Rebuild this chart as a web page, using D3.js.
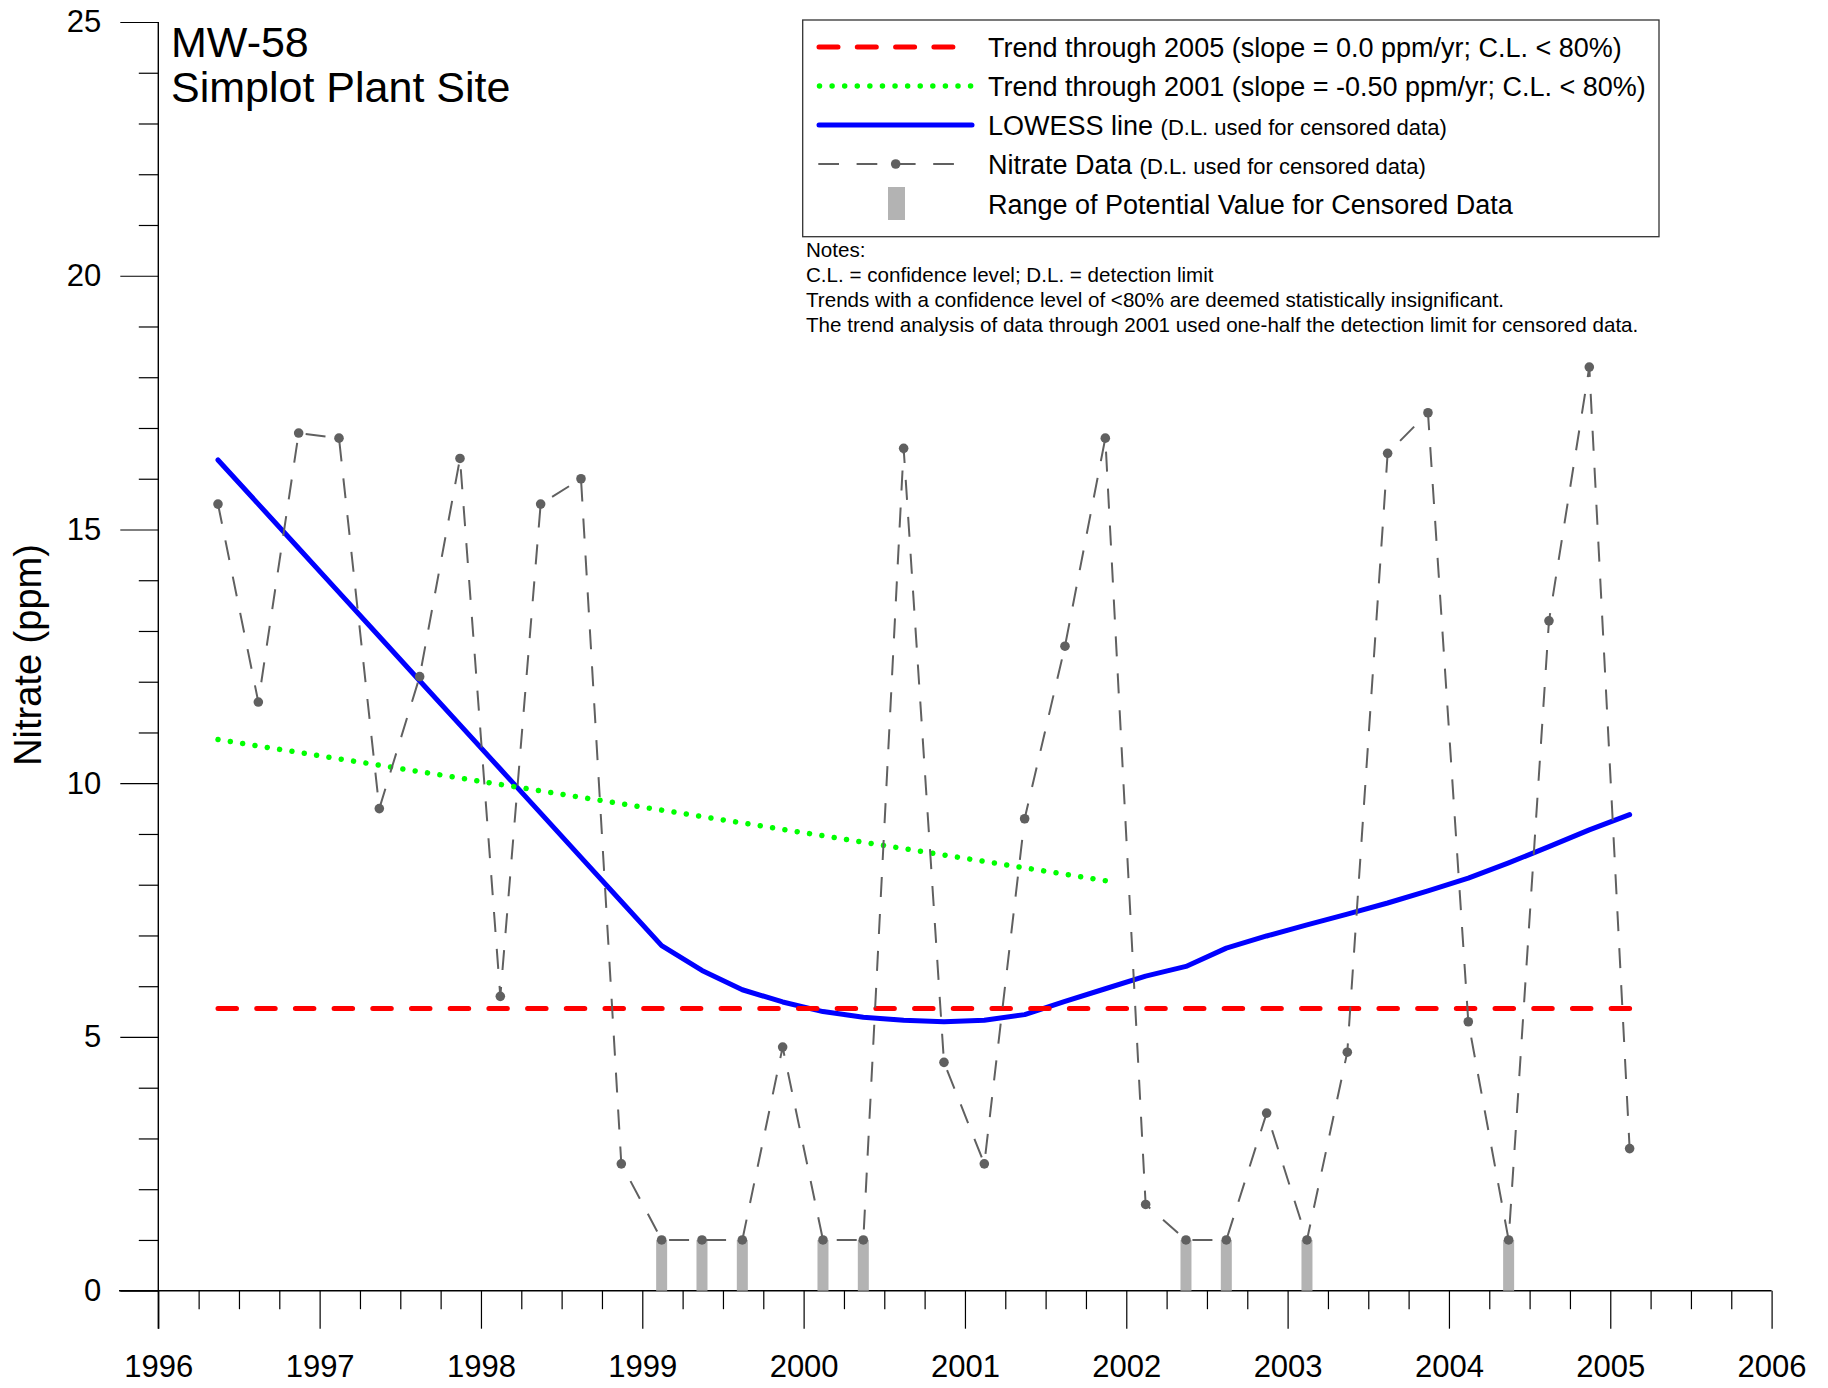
<!DOCTYPE html>
<html>
<head>
<meta charset="utf-8">
<script src="https://cdn.jsdelivr.net/npm/d3@7"></script>
<style>
  html, body { margin: 0; padding: 0; background: #fff; }
  svg { display: block; font-family: "Liberation Sans", Arial, sans-serif; }
</style>
</head>
<body>
<svg id="chart" width="1828" height="1388"></svg>
<script>
// ---------------- DATA ----------------
const sampleDates = [1996.37, 1996.62, 1996.87, 1997.12, 1997.37, 1997.62, 1997.87, 1998.12, 1998.37, 1998.62,
  1998.87, 1999.12, 1999.37, 1999.62, 1999.87, 2000.12, 2000.37, 2000.62, 2000.87, 2001.12,
  2001.37, 2001.62, 2001.87, 2002.12, 2002.37, 2002.62, 2002.87, 2003.12, 2003.37, 2003.62,
  2003.87, 2004.12, 2004.37, 2004.62, 2004.87, 2005.12];
const nitrate = [15.5, 11.6, 16.9, 16.8, 9.5, 12.1, 16.4, 5.8, 15.5, 16.0,
  2.5, 1.0, 1.0, 1.0, 4.8, 1.0, 1.0, 16.6, 4.5, 2.5,
  9.3, 12.7, 16.8, 1.7, 1.0, 1.0, 3.5, 1.0, 4.7, 16.5,
  17.3, 5.3, 1.0, 13.2, 18.2, 2.8];
const censored = [0,0,0,0,0,0,0,0,0,0,
  0,1,1,1,0,1,1,0,0,0,
  0,0,0,0,1,1,0,1,0,0,
  0,0,1,0,0,0];
const lowess = [16.37, 15.50, 14.63, 13.76, 12.89, 12.02, 11.15, 10.28, 9.41, 8.54,
  7.67, 6.80, 6.31, 5.93, 5.69, 5.50, 5.39, 5.33, 5.30, 5.33,
  5.44, 5.70, 5.95, 6.20, 6.39, 6.75, 6.99, 7.21, 7.42, 7.64,
  7.88, 8.13, 8.43, 8.75, 9.08, 9.38];
const trend2005 = [[1996.37, 5.56], [2005.12, 5.56]];
const trend2001 = [[1996.37, 10.86], [2001.87, 8.08]];
const xTickYears = [1996, 1997, 1998, 1999, 2000, 2001, 2002, 2003, 2004, 2005, 2006];
const yTickValues = [0, 5, 10, 15, 20, 25];
const titleLines = ["MW-58", "Simplot Plant Site"];
const yAxisTitle = "Nitrate (ppm)";
const legendItems = [
  {main: "Trend through 2005 (slope = 0.0 ppm/yr; C.L. < 80%)", small: ""},
  {main: "Trend through 2001 (slope = -0.50 ppm/yr; C.L. < 80%)", small: ""},
  {main: "LOWESS line ", small: "(D.L. used for censored data)"},
  {main: "Nitrate Data ", small: "(D.L. used for censored data)"},
  {main: "Range of Potential Value for Censored Data", small: ""}
];
const notes = ["Notes:",
  "C.L. = confidence level; D.L. = detection limit",
  "Trends with a confidence level of <80% are deemed statistically insignificant.",
  "The trend analysis of data through 2001 used one-half the detection limit for censored data."];

// ---------------- LAYOUT ----------------
const svg = d3.select("#chart");
svg.append("rect").attr("width", 1828).attr("height", 1388).attr("fill", "#fff");

const x = d3.scaleLinear().domain([1996, 2006]).range([158.3, 1771.6]);
const y = d3.scaleLinear().domain([0, 25]).range([1290.7, 22]);

const records = sampleDates.map((d, i) => ({date: d, value: nitrate[i], cens: censored[i], lowess: lowess[i]}));

// dash pattern that ends exactly on a dot / dash for a straight segment
function fitPattern(pts, period, on) {
  const L = Math.hypot(x(pts[1][0]) - x(pts[0][0]), y(pts[1][1]) - y(pts[0][1]));
  const n = Math.max(1, Math.round((L - on) / period));
  const p = (L - on) / n;
  return `${on},${p - on}`;
}

// ---------------- AXES ----------------
const axisColor = "#000";
const minorX = d3.range(1996, 2006.001, 0.25).filter(v => Math.abs(v - Math.round(v)) > 1e-6);
const gxMinor = svg.append("g").attr("transform", `translate(0,${y(0)})`)
  .call(d3.axisBottom(x).tickValues(minorX).tickSize(18.5).tickFormat(""));
gxMinor.select(".domain").remove();
gxMinor.selectAll("line").attr("stroke", axisColor).attr("stroke-width", 1.2);

const gx = svg.append("g").attr("transform", `translate(0,${y(0)})`)
  .call(d3.axisBottom(x).tickValues(xTickYears).tickSize(38).tickPadding(26).tickFormat(d3.format("d")));
gx.select(".domain").remove();
gx.selectAll("line").attr("stroke", axisColor).attr("stroke-width", 1.2);
gx.selectAll("text").attr("font-size", 31).attr("fill", "#000")
  .attr("font-family", "Liberation Sans, Arial, sans-serif");

const minorY = d3.range(0, 25.001, 1).filter(v => v % 5 !== 0);
const gyMinor = svg.append("g").attr("transform", `translate(${x(1996)},0)`)
  .call(d3.axisLeft(y).tickValues(minorY).tickSize(19.5).tickFormat(""));
gyMinor.select(".domain").remove();
gyMinor.selectAll("line").attr("stroke", axisColor).attr("stroke-width", 1.2);

const gy = svg.append("g").attr("transform", `translate(${x(1996)},0)`)
  .call(d3.axisLeft(y).tickValues(yTickValues).tickSize(38).tickPadding(19).tickFormat(d3.format("d")));
gy.select(".domain").remove();
gy.selectAll("line").attr("stroke", axisColor).attr("stroke-width", 1.2);
gy.selectAll("text").attr("font-size", 31).attr("fill", "#000")
  .attr("font-family", "Liberation Sans, Arial, sans-serif");

svg.append("line").attr("x1", 119).attr("x2", x(2006)).attr("y1", y(0)).attr("y2", y(0))
  .attr("stroke", axisColor).attr("stroke-width", 1.4);
svg.append("line").attr("x1", x(1996)).attr("x2", x(1996)).attr("y1", y(25)).attr("y2", y(0) + 38)
  .attr("stroke", axisColor).attr("stroke-width", 1.4);

svg.append("text").attr("transform", `translate(41,655) rotate(-90)`)
  .attr("text-anchor", "middle").attr("font-size", 38).attr("fill", "#000").text(yAxisTitle);

svg.append("g").selectAll("text").data(titleLines).join("text")
  .attr("x", 171).attr("y", (d, i) => 57 + i * 45)
  .attr("font-size", 43).attr("fill", "#000").text(d => d);

// ---------------- MARKS ----------------
const plot = svg.append("g");
plot.selectAll("rect.cens").data(records.filter(r => r.cens)).join("rect")
  .attr("class", "cens")
  .attr("x", d => x(d.date) - 5.5).attr("width", 11)
  .attr("y", d => y(d.value)).attr("height", d => y(0) - y(d.value))
  .attr("fill", "#b3b3b3");

const lineGen = d3.line().x(d => x(d[0])).y(d => y(d[1]));

plot.append("path").datum(records.map(r => [r.date, r.lowess]))
  .attr("d", lineGen).attr("fill", "none").attr("stroke", "#0000ff")
  .attr("stroke-width", 5).attr("stroke-linejoin", "round").attr("stroke-linecap", "round");

plot.append("path").datum(trend2001).attr("d", lineGen).attr("fill", "none")
  .attr("stroke", "#00ff00").attr("stroke-width", 5.5).attr("stroke-linecap", "round")
  .attr("stroke-dasharray", fitPattern(trend2001, 12.5, 0.01));

plot.append("path").datum(trend2005).attr("d", lineGen).attr("fill", "none")
  .attr("stroke", "#ff0000").attr("stroke-width", 5).attr("stroke-linecap", "round")
  .attr("stroke-dasharray", fitPattern(trend2005, 38.3, 18.5));

plot.append("path").datum(records.map(r => [r.date, r.value])).attr("d", lineGen)
  .attr("fill", "none").attr("stroke", "#606060").attr("stroke-width", 2)
  .attr("stroke-dasharray", "20,17");

plot.selectAll("circle.pt").data(records).join("circle").attr("class", "pt")
  .attr("cx", d => x(d.date)).attr("cy", d => y(d.value)).attr("r", 4.8).attr("fill", "#606060");

// ---------------- LEGEND ----------------
const lg = svg.append("g");
lg.append("rect").attr("x", 802.7).attr("y", 20).attr("width", 856.3).attr("height", 216.7)
  .attr("fill", "#fff").attr("stroke", "#333").attr("stroke-width", 1.3);
const rowY = [47, 86, 125, 164, 204];
lg.append("line").attr("x1", 819).attr("x2", 955).attr("y1", rowY[0]).attr("y2", rowY[0])
  .attr("stroke", "#ff0000").attr("stroke-width", 5).attr("stroke-linecap", "round")
  .attr("stroke-dasharray", "19,19.3");
lg.append("line").attr("x1", 819.5).attr("x2", 971).attr("y1", rowY[1]).attr("y2", rowY[1])
  .attr("stroke", "#00ff00").attr("stroke-width", 5.5).attr("stroke-linecap", "round")
  .attr("stroke-dasharray", "0.01,12.58");
lg.append("line").attr("x1", 819).attr("x2", 972).attr("y1", rowY[2]).attr("y2", rowY[2])
  .attr("stroke", "#0000ff").attr("stroke-width", 5).attr("stroke-linecap", "round");
lg.append("line").attr("x1", 818.3).attr("x2", 954).attr("y1", rowY[3]).attr("y2", rowY[3])
  .attr("stroke", "#606060").attr("stroke-width", 2).attr("stroke-dasharray", "20.7,17.6");
lg.append("circle").attr("cx", 895.7).attr("cy", rowY[3]).attr("r", 4.8).attr("fill", "#606060");
lg.append("rect").attr("x", 888).attr("y", 187).attr("width", 17).attr("height", 33).attr("fill", "#b3b3b3");

const lt = lg.selectAll("text.leg").data(legendItems).join("text").attr("class", "leg")
  .attr("x", 988).attr("y", (d, i) => rowY[i] + 9.5).attr("font-size", 27).attr("fill", "#000");
lt.append("tspan").text(d => d.main);
lt.append("tspan").attr("font-size", 22).text(d => d.small);

svg.append("g").selectAll("text").data(notes).join("text")
  .attr("x", 806).attr("y", (d, i) => 257 + i * 24.9)
  .attr("font-size", 20.6).attr("fill", "#000").text(d => d);
</script>
</body>
</html>
